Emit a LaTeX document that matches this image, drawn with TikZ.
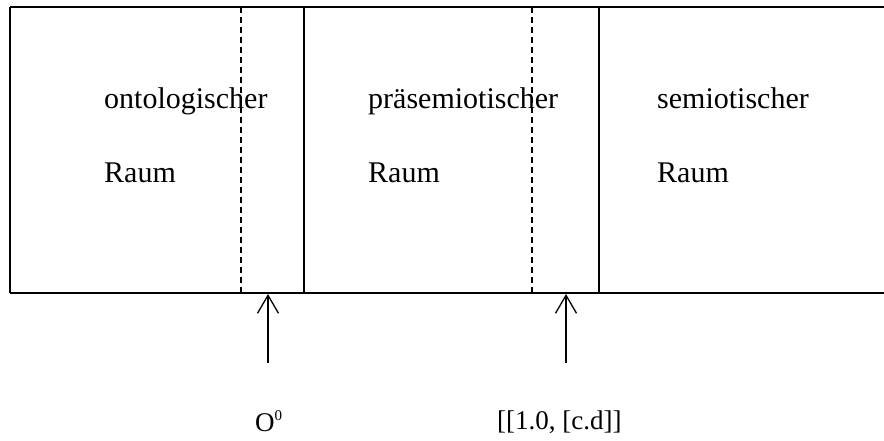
\documentclass[tikz,border=0pt]{standalone}
\usepackage{fontspec}
\setmainfont{Liberation Serif}
\usetikzlibrary{arrows.meta}
\begin{document}
\begin{tikzpicture}[x=1pt,y=-1pt,
  boxline/.style={line width=1.3pt},
  thickline/.style={line width=2.2pt},
  sepline/.style={line width=1.2pt, dash pattern=on 6pt off 4pt},
  txt/.style={font=\fontsize{30}{32}\selectfont, anchor=base west, inner sep=0pt},
  lbl/.style={font=\fontsize{27}{30}\selectfont, anchor=base west, inner sep=0pt},
  pointer/.style={line width=1.3pt, -{Straight Barb[length=18pt,width=21pt]}}]
\useasboundingbox (0,0) rectangle (884,440);
% frame
\coordinate (tl) at (10,7);
\coordinate (bl) at (10,293);
\coordinate (tr) at (884,7);
\coordinate (br) at (884,293);
\draw[thickline] (tl) -- (bl);
\draw[boxline] (tl) -- (tr);
\draw[boxline] (bl) -- (br);
% solid separators
\draw[boxline] (304,7) -- (304,293);
\draw[boxline] (599,7) -- (599,293);
% dashed separators
\draw[sepline] (241,7) -- (241,293);
\draw[sepline] (532,7) -- (532,293);
% texts
\node[txt] (t1a) at (104,108) {ontologischer};
\node[txt] (t1b) at (104,182) {Raum};
\node[txt] (t2a) at (368,108) {präsemiotischer};
\node[txt] (t2b) at (368,182) {Raum};
\node[txt] (t3a) at (657,108) {semiotischer};
\node[txt] (t3b) at (657,182) {Raum};
% arrows
\coordinate (a1s) at (268,363);
\coordinate (a1e) at (268,294);
\coordinate (a2s) at (566,363);
\coordinate (a2e) at (566,294);
\draw[pointer] (a1s) -- (a1e);
\draw[pointer] (a2s) -- (a2e);
% labels
\node[lbl] (l1) at (255,431) {O\raisebox{11pt}{\fontsize{15}{15}\selectfont 0}};
\node[lbl] (l2) at (497,429) {[[1.0, [c.d]]};
\end{tikzpicture}
\end{document}
